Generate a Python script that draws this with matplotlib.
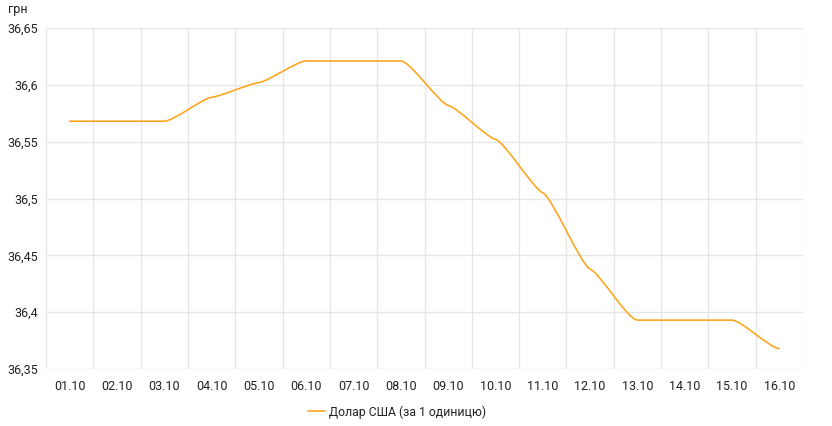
import numpy as np
import matplotlib
matplotlib.use("Agg")
import matplotlib.pyplot as plt
from matplotlib.ticker import FixedLocator, FuncFormatter
from matplotlib.path import Path
from matplotlib.patches import PathPatch
from matplotlib.lines import Line2D

plt.rcParams['font.family'] = ['Roboto', 'DejaVu Sans']

dates = ["01.10", "02.10", "03.10", "04.10", "05.10", "06.10", "07.10", "08.10",
         "09.10", "10.10", "11.10", "12.10", "13.10", "14.10", "15.10", "16.10"]
usd = [36.568, 36.568, 36.568, 36.589, 36.602, 36.621, 36.621, 36.621,
       36.582, 36.552, 36.505, 36.438, 36.393, 36.393, 36.393, 36.368]
y_ticks = [36.35, 36.4, 36.45, 36.5, 36.55, 36.6, 36.65]
series_name = "Долар США (за 1 одиницю)"
unit = "грн"
color = "#ffa31a"


def smooth_path(x, y, frac=0.2, slope_scale=0.3):
    x = np.asarray(x, float); y = np.asarray(y, float)
    d = np.diff(y) / np.diff(x)
    m = np.zeros_like(y)
    for i in range(1, len(y) - 1):
        if d[i - 1] * d[i] > 0:
            m[i] = slope_scale * 2 / (1 / d[i - 1] + 1 / d[i])
    verts = [(x[0], y[0])]
    codes = [Path.MOVETO]
    for i in range(len(x) - 1):
        a = frac * (x[i + 1] - x[i])
        verts += [(x[i] + a, y[i] + a * m[i]),
                  (x[i + 1] - a, y[i + 1] - a * m[i + 1]),
                  (x[i + 1], y[i + 1])]
        codes += [Path.CURVE4] * 3
    return Path(verts, codes)


fig = plt.figure(figsize=(8.32, 4.26), dpi=100)
ax = fig.add_axes([46 / 832, 1 - 369 / 426, (803 - 46) / 832, (369 - 28) / 426])

xpos = np.arange(len(dates))
ax.add_patch(PathPatch(smooth_path(xpos, usd), facecolor='none', edgecolor=color,
                       lw=1.15, capstyle='round', joinstyle='round'))

ax.set_xlim(-0.5, len(dates) - 0.5)
ax.set_ylim(y_ticks[0], y_ticks[-1])
ax.set_xticks(xpos)
ax.set_xticklabels(dates)
ax.xaxis.set_minor_locator(FixedLocator(np.arange(-0.5, len(dates), 1.0)))
ax.set_yticks(y_ticks)
ax.yaxis.set_major_formatter(FuncFormatter(lambda v, p: ("%g" % round(v, 2)).replace('.', ',')))

ax.grid(True, which='minor', axis='x', color='#e6e6e6', lw=1)
ax.grid(True, which='major', axis='y', color='#e6e6e6', lw=1)
ax.set_axisbelow(True)
for s in ax.spines.values():
    s.set_visible(False)
ax.tick_params(axis='both', which='both', length=0, labelsize=9, colors='#222222')
ax.tick_params(axis='x', pad=8)
ax.tick_params(axis='y', pad=6)

fig.text(8 / 832, 1 - 10 / 426, unit, fontsize=9, color='#222222', va='center', ha='left')

handle = Line2D([], [], color=color, lw=1.15)
fig.legend([handle], [series_name], loc='center left',
           bbox_to_anchor=(308 / 832, 1 - 412 / 426), frameon=False,
           fontsize=8.8, handlelength=1.36, handletextpad=0.32,
           borderpad=0, borderaxespad=0, labelcolor='#222222')

fig.savefig("out.png", dpi=100, facecolor='white')
